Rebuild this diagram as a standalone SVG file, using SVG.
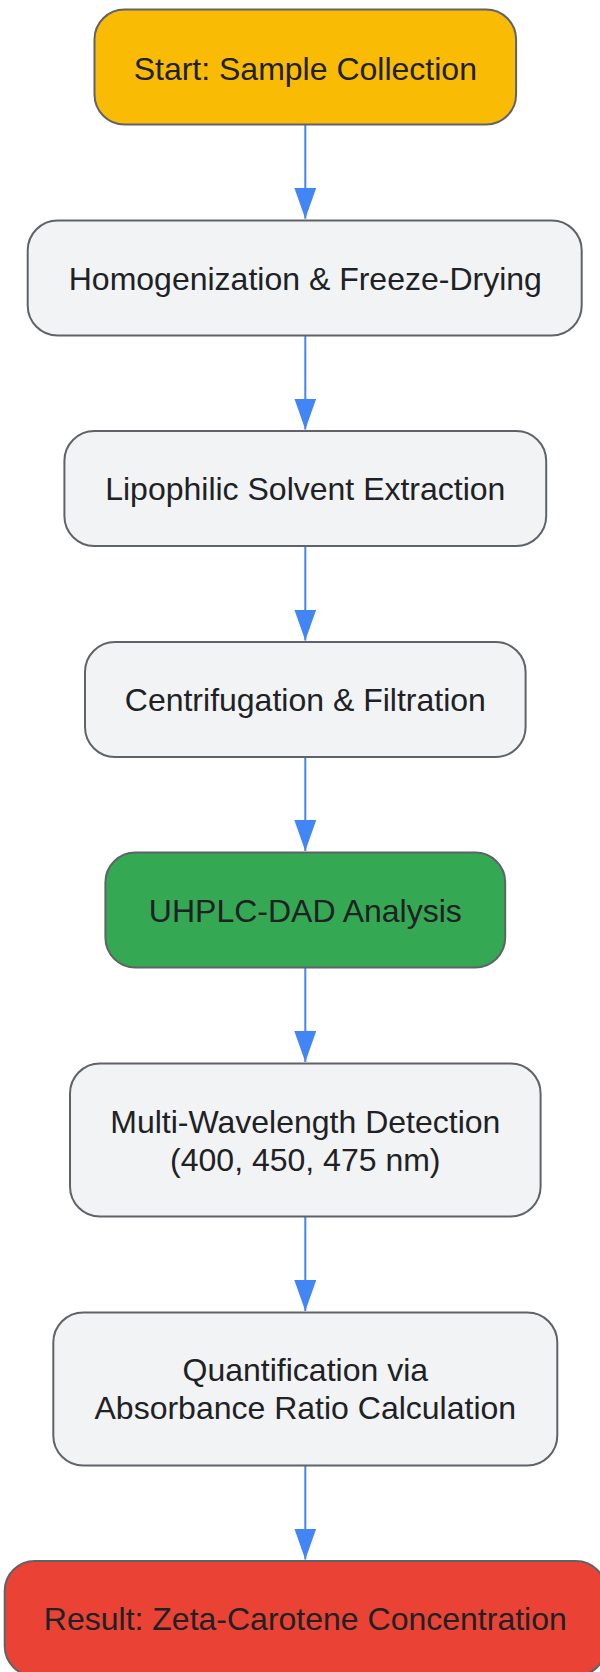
<svg xmlns="http://www.w3.org/2000/svg" width="600" height="1672" viewBox="0 0 600 1672">
<style>
.node rect{stroke:#5f6368;stroke-width:2}
.gray{fill:#f1f3f4}
.yellow{fill:#fabb05}
.green{fill:#34a853}
.red{fill:#ea4335}
text{font-family:"Liberation Sans",Arial,sans-serif;font-size:32px;fill:#202124;text-anchor:middle}
.edge{stroke:#4285f4;stroke-width:2;fill:none;marker-end:url(#arr)}
</style>
<defs>
<marker id="arr" markerUnits="userSpaceOnUse" markerWidth="31" markerHeight="22" refX="31" refY="11" orient="auto">
<path d="M0,0 L31,11 L0,22 z" fill="#4285f4"/>
</marker>
</defs>
<rect width="600" height="1672" fill="#ffffff"/>
<g id="connectors">
<line class="edge" x1="305.3" y1="125" x2="305.3" y2="218.7"/>
<line class="edge" x1="305.3" y1="336" x2="305.3" y2="429.5"/>
<line class="edge" x1="305.3" y1="546.5" x2="305.3" y2="640.5"/>
<line class="edge" x1="305.3" y1="757" x2="305.3" y2="851"/>
<line class="edge" x1="305.3" y1="968" x2="305.3" y2="1062"/>
<line class="edge" x1="305.3" y1="1217" x2="305.3" y2="1311"/>
<line class="edge" x1="305.3" y1="1466" x2="305.3" y2="1559.5"/>
</g>
<g id="n1" class="node">
<rect class="yellow" x="94.5" y="9.5" width="421.6" height="115" rx="30" ry="30"/>
<text x="305.3" y="79.5">Start: Sample Collection</text>
</g>
<g id="n2" class="node">
<rect class="gray" x="27.7" y="220.5" width="554" height="115" rx="30" ry="30"/>
<text x="305.3" y="289.5">Homogenization &amp; Freeze-Drying</text>
</g>
<g id="n3" class="node">
<rect class="gray" x="64.4" y="431" width="481.8" height="115" rx="30" ry="30"/>
<text x="305.3" y="500">Lipophilic Solvent Extraction</text>
</g>
<g id="n4" class="node">
<rect class="gray" x="85" y="642" width="440.6" height="115" rx="30" ry="30"/>
<text x="305.3" y="711">Centrifugation &amp; Filtration</text>
</g>
<g id="n5" class="node">
<rect class="green" x="105.4" y="852.5" width="399.8" height="115" rx="30" ry="30"/>
<text x="305.3" y="922">UHPLC-DAD Analysis</text>
</g>
<g id="n6" class="node">
<rect class="gray" x="70" y="1063.5" width="470.6" height="153" rx="30" ry="30"/>
<text x="305.3" y="1133">Multi-Wavelength Detection</text>
<text x="305.3" y="1171.4">(400, 450, 475 nm)</text>
</g>
<g id="n7" class="node">
<rect class="gray" x="53.3" y="1312.5" width="504" height="153" rx="30" ry="30"/>
<text x="305.3" y="1381">Quantification via</text>
<text x="305.3" y="1419.4">Absorbance Ratio Calculation</text>
</g>
<g id="n8" class="node">
<rect class="red" x="4.7" y="1561" width="601.2" height="115" rx="30" ry="30"/>
<text x="305.3" y="1630">Result: Zeta-Carotene Concentration</text>
</g>
</svg>
